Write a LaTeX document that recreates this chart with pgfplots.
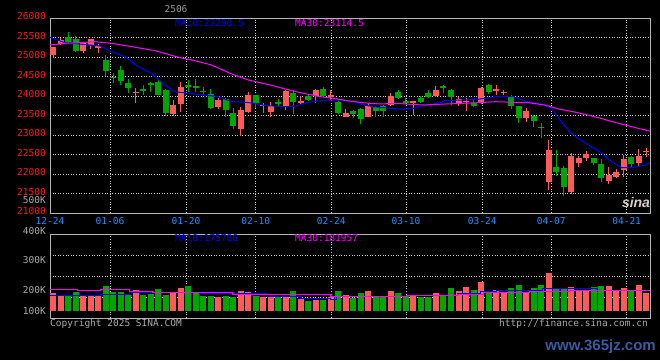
\documentclass[border=0pt]{standalone}
\usepackage{fontspec}
\usepackage{pgfplots}
\usepackage{pgfplotstable}
\pgfplotsset{compat=1.18}
\newfontfamily\mono{DejaVu Sans Mono}
\newfontfamily\wm{Liberation Sans}
\definecolor{cRed}{RGB}{255,90,90}
\definecolor{cGreen}{RGB}{0,165,0}
\definecolor{cBlue}{RGB}{0,0,255}
\definecolor{cMag}{RGB}{255,0,255}
\definecolor{cPx}{RGB}{255,25,25}
\definecolor{cDate}{RGB}{30,144,255}
\definecolor{cTxt}{RGB}{170,170,170}
\definecolor{cGrid}{RGB}{200,200,200}
\definecolor{cBorder}{RGB}{180,180,180}
\definecolor{cWm}{RGB}{60,90,160}

% red (up) candles: index, open, high, low, close
\pgfplotstableread{
k o h l c
0 25051 25269 24967 25256
1 25326 25495 25295 25436
4 25162 25392 25110 25351
5 25308 25474 25197 25454
6 25239 25333 25095 25290
11 24077 24197 23813 24103
16 23538 23897 23500 23769
17 23795 24367 23597 24238
22 23726 23941 23659 23897
25 23154 23726 22974 23641
26 23597 24095 23564 24026
28 23731 23813 23572 23751
29 23597 23838 23469 23744
31 23756 24154 23641 24133
33 23830 24000 23769 23850
35 24000 24180 23813 24154
37 23987 24154 23897 24013
39 23469 23659 23449 23572
42 23469 23813 23449 23744
45 23769 24069 23756 24000
48 23830 23854 23513 23845
51 24000 24256 23987 24154
54 23813 23982 23744 23915
55 23840 23941 23623 23860
57 23854 24218 23795 24198
59 24140 24282 24026 24160
60 24075 24154 24026 24095
63 23444 23685 23341 23623
66 21803 22872 21590 22615
69 21546 22546 21487 22462
70 22274 22462 22172 22403
71 22403 22590 22333 22513
74 21821 22172 21744 21974
75 21915 22116 21885 22059
76 22103 22487 21915 22377
78 22290 22641 22187 22462
79 22560 22659 22428 22580
}\redC

% green (down) candles: index, open, high, low, close
\pgfplotstableread{
k o h l c
2 25505 25649 25326 25392
3 25454 25538 25136 25162
7 24923 25051 24513 24641
8 24500 24597 24341 24470
9 24667 24769 24282 24392
10 24341 24428 24069 24213
12 24167 24282 24026 24141
13 24341 24367 24095 24282
14 24367 24436 24013 24026
15 24154 24180 23487 23572
18 24282 24410 24110 24223
19 24240 24428 24110 24215
20 24130 24223 24026 24110
21 24051 24172 23654 23685
23 23915 23949 23454 23641
24 23572 23685 23154 23231
27 24026 24038 23692 23813
30 23854 23923 23710 23787
32 24085 24154 23551 23854
34 24000 24026 23872 23897
36 24172 24238 23987 24000
38 23854 23897 23551 23572
40 23623 23641 23428 23538
41 23659 23680 23282 23403
43 23726 23744 23469 23623
44 23744 23769 23469 23623
46 24103 24154 23923 23949
47 23872 23957 23795 23813
49 23957 24008 23833 23854
50 24085 24154 23961 23982
52 24235 24282 24069 24215
53 24154 24167 23769 23982
56 23813 23915 23710 23751
58 24282 24295 24051 24110
61 24000 24013 23659 23744
62 23744 23756 23315 23428
64 23487 23513 23213 23359
65 23200 23300 22915 23180
67 22172 22615 21949 22059
68 22146 22205 21436 21675
72 22403 22423 22231 22274
73 22249 22377 21803 21905
77 22428 22449 22146 22256
}\greenC

\pgfplotstableread{
k p
-0.4 25505
1.6 25367
6.3 25282
7.8 25136
9.6 25008
11.3 24751
13.1 24582
14.9 24282
16.2 24110
18.9 24051
20.2 24026
22.0 23982
23.8 23854
25.8 23838
28.5 23751
31.1 23726
32.4 23744
33.8 23828
35.1 23872
36.9 23897
38.7 23897
40.0 23854
40.9 23795
42.6 23726
44.9 23685
46.6 23659
48.0 23685
49.8 23769
51.5 23828
52.2 23880
56.6 23915
58.9 23982
61.3 23982
62.8 23872
65.1 23787
66.4 23685
67.5 23385
68.8 23085
69.9 22915
71.3 22744
73.1 22531
74.4 22315
75.7 22162
77.1 22162
78.8 22231
79.5 22290
}\maTen

\pgfplotstableread{
k p
-0.4 25308
1.6 25351
5.6 25392
7.8 25351
10.5 25264
13.6 25162
16.7 24992
18.9 24905
21.1 24795
23.8 24564
26.0 24410
28.9 24282
31.1 24172
33.3 24069
35.6 23982
37.3 23941
39.1 23880
41.3 23828
43.5 23795
45.8 23813
47.5 23787
49.3 23769
52.2 23795
56.6 23828
58.9 23854
63.3 23828
65.5 23769
67.3 23667
69.9 23572
72.6 23444
75.3 23300
77.9 23172
79.5 23100
}\maThirty

% volumes
\pgfplotstableread{
k v
0 170700
1 162000
4 159000
5 158900
6 158900
11 181300
16 173400
17 190300
22 155000
25 178500
26 174600
28 155000
29 156300
31 152600
33 147100
35 142000
37 152000
39 161600
42 178500
45 178500
48 158000
51 170700
54 178500
55 194300
57 213900
59 181300
60 174600
63 174600
66 246800
69 194300
70 178500
71 181300
74 196500
75 178500
76 188000
78 200900
79 170700
}\redV

\pgfplotstableread{
k v
2 163000
3 174600
7 198200
8 174600
9 174600
10 162000
12 160000
13 165000
14 185200
15 161600
18 198200
19 170700
20 157700
21 158900
23 158900
24 155000
27 158900
30 152600
32 178500
34 139300
36 142000
38 177300
40 151000
41 170700
43 155000
44 155000
46 170700
47 157700
49 155000
50 155000
52 157700
53 190300
56 181300
58 174600
61 190300
62 200900
64 190300
65 200900
67 184000
68 184000
72 192900
73 196500
77 178500
}\greenV

\pgfplotstableread{
k v
-0.4 158900
6.3 165600
10.2 170700
19.6 168300
28.5 155000
32.9 148700
36.9 145900
37.8 157700
47.1 161600
53.8 168300
56.9 174600
59.1 181300
65.2 187900
72.4 181300
79.5 181300
}\vmaTen

\pgfplotstableread{
k v
-0.4 185200
3.2 178500
6.3 185200
10.2 175000
13.3 172200
23.9 165600
36.9 157700
47.1 161600
53.8 165600
57.3 170700
63.5 174600
68.8 181300
79.5 181300
}\vmaThirty

\pgfplotsset{
  kbase/.style={
    scale only axis, width=600pt,
    xmin=-0.4, xmax=79.5,
    axis line style={draw=cBorder, line width=1pt},
    major tick length=0pt,
    grid style={draw=cGrid, line width=0.8pt, dash pattern=on 1pt off 1.6pt},
    xmajorgrids, ymajorgrids,
    xtick={-0.4,7.59,17.71,26.99,37.05,47.0,57.16,66.35,76.39},
    tick label style={font=\mono\fontsize{9.5}{10}\selectfont},
    scaled y ticks=false, scaled x ticks=false,
  },
  wickR/.style={mark=none, draw=none, forget plot,
    error bars/.cd, y dir=plus, y explicit, error mark=none,
    error bar style={draw=cRed, line width=1pt}},
  wickG/.style={mark=none, draw=none, forget plot,
    error bars/.cd, y dir=plus, y explicit, error mark=none,
    error bar style={draw=cGreen, line width=1pt}},
  bodyR/.style={mark=none, draw=none, forget plot,
    error bars/.cd, y dir=plus, y explicit, error mark=none,
    error bar style={draw=cRed, line width=6pt}},
  bodyG/.style={mark=none, draw=none, forget plot,
    error bars/.cd, y dir=plus, y explicit, error mark=none,
    error bar style={draw=cGreen, line width=6pt}},
}

\begin{document}
\begin{tikzpicture}
\useasboundingbox (0pt,0pt) rectangle (660pt,360pt);
\fill[black] (0pt,0pt) rectangle (660pt,360pt);

% ---------------- price panel ----------------
\begin{axis}[kbase,
  at={(50pt,147pt)}, anchor=south west, height=195pt,
  ymin=21000, ymax=26000,
  ytick={21000,21500,...,26000},
  /pgf/number format/assume math mode=true,
  /pgf/number format/1000 sep={},
  yticklabel style={text=cPx, anchor=east, inner sep=0pt, xshift=-4pt, yshift=1.5pt},
  xticklabels={12-24,01-06,01-20,02-10,02-24,03-10,03-24,04-07,04-21},
  xticklabel style={text=cDate, anchor=north, inner sep=0pt, yshift=-4.5pt},
]
\addplot[wickR] table[x=k, y=l, y error plus expr=\thisrow{h}-\thisrow{l}] {\redC};
\addplot[wickG] table[x=k, y=l, y error plus expr=\thisrow{h}-\thisrow{l}] {\greenC};
\addplot[bodyR] table[x=k, y=o, y error plus expr={max(\thisrow{c}-\thisrow{o},30)}] {\redC};
\addplot[bodyG] table[x=k, y=c, y error plus expr={max(\thisrow{o}-\thisrow{c},30)}] {\greenC};
\addplot[cBlue, line width=1pt, mark=none] table[x=k, y=p] {\maTen};
\addplot[cMag, line width=1pt, mark=none] table[x=k, y=p] {\maThirty};
\end{axis}

% ---------------- volume panel ----------------
\begin{axis}[kbase,
  at={(50pt,42pt)}, anchor=south west, height=83.7pt,
  ymin=71340, ymax=400000,
  ytick={153505,235670,317835},
  yticklabels={}, xticklabels={},
]
\addplot[bodyR] table[x=k, y expr=100000, y error plus expr=\thisrow{v}-100000] {\redV};
\addplot[bodyG] table[x=k, y expr=100000, y error plus expr=\thisrow{v}-100000] {\greenV};
\addplot[cBlue, line width=1pt, mark=none, const plot] table[x=k, y=v] {\vmaTen};
\addplot[cMag, line width=1pt, mark=none, const plot] table[x=k, y=v] {\vmaThirty};
\end{axis}

% ---------------- texts ----------------
\begin{scope}[every node/.style={font=\mono\fontsize{9.5}{10}\selectfont, inner sep=0pt}]
\node[text=cTxt!120] at (176pt,351pt) {2506};
\node[anchor=west, text=cBlue] at (175pt,336.7pt) {MA10:22290.5};
\node[anchor=west, text=cMag] at (295pt,336.7pt) {MA30:23114.5};
\node[anchor=west, text=cBlue] at (175pt,121.7pt) {MA10:175706};
\node[anchor=west, text=cMag] at (295pt,122pt) {MA30:181957};
\node[anchor=east, text=cTxt] at (46pt,160pt) {500K};
\node[anchor=east, text=cTxt] at (46pt,129.3pt) {400K};
\node[anchor=east, text=cTxt] at (46pt,100pt) {300K};
\node[anchor=east, text=cTxt] at (46pt,70pt) {200K};
\node[anchor=east, text=cTxt] at (46pt,49pt) {100K};
\node[anchor=west, text=cTxt] at (50pt,36.5pt) {Copyright 2025 SINA.COM};
\node[anchor=east, text=cTxt] at (648pt,36.5pt) {http://finance.sina.com.cn};
\end{scope}
\node[inner sep=0pt, text={rgb,255:red,215;green,205;blue,205}, font=\wm\bfseries\itshape\fontsize{14}{14}\selectfont] at (636pt,158pt) {sina};
\node[inner sep=0pt, anchor=east, text=cWm, font=\wm\bfseries\fontsize{15}{15}\selectfont] at (656pt,13pt) {www.365jz.com};
\end{tikzpicture}
\end{document}
